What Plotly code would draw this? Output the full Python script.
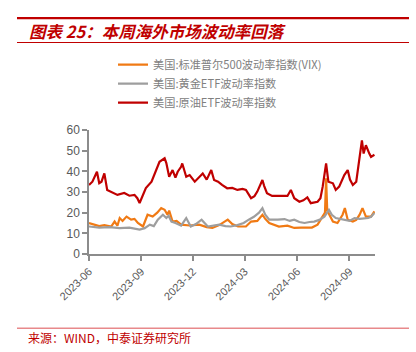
import plotly.graph_objects as go

# ---------------- data ----------------
vix_dates = ["2023-06-01","2023-06-11","2023-06-19","2023-06-28","2023-07-10","2023-07-16","2023-07-21",
             "2023-07-25","2023-07-30","2023-08-06","2023-08-14","2023-08-20","2023-08-26","2023-09-04",
             "2023-09-12","2023-09-21","2023-09-29","2023-10-06","2023-10-12","2023-10-17","2023-10-20",
             "2023-10-26","2023-11-02","2023-11-10","2023-11-25","2023-12-12","2023-12-25","2024-01-04",
             "2024-01-16","2024-01-31","2024-02-08","2024-02-18","2024-03-03","2024-03-12","2024-03-23",
             "2024-04-01","2024-04-06","2024-04-13","2024-04-30","2024-05-15","2024-05-27","2024-06-08",
             "2024-06-19","2024-06-27","2024-07-07","2024-07-16","2024-07-20","2024-07-22","2024-07-24",
             "2024-08-03","2024-08-11","2024-08-20","2024-08-24","2024-08-29","2024-09-07","2024-09-13",
             "2024-09-19","2024-09-24","2024-09-30","2024-10-09","2024-10-15"]
vix = [15.0, 14.0, 13.5, 14.0, 13.3, 15.7, 13.7,
       17.4, 16.0, 18.1, 16.6, 17.0, 15.0, 13.3,
       19.0, 18.1, 20.0, 22.2, 21.4, 19.0, 21.0,
       15.7, 16.0, 14.2, 13.8, 14.2, 13.0, 12.6,
       14.0, 16.6, 14.5, 13.3, 13.3, 15.7, 16.0,
       19.0, 17.0, 15.0, 13.3, 13.7, 12.6, 12.8,
       12.6, 12.8, 14.2, 18.1, 20.0, 36.6, 21.0,
       15.7, 15.0, 19.0, 22.2, 16.6, 15.7, 16.5,
       19.0, 22.2, 18.1, 18.1, 20.6]

gold_dates = ["2023-06-01","2023-06-19","2023-07-07","2023-07-25","2023-08-11","2023-08-29","2023-09-07",
              "2023-09-16","2023-09-23","2023-09-30","2023-10-09","2023-10-15","2023-10-19","2023-10-24",
              "2023-10-31","2023-11-10","2023-11-19","2023-11-27","2023-12-06","2023-12-16","2023-12-27",
              "2024-01-07","2024-01-16","2024-01-27","2024-02-05","2024-02-17","2024-02-28","2024-03-08",
              "2024-03-17","2024-03-26","2024-04-01","2024-04-06","2024-04-13","2024-04-28","2024-05-10",
              "2024-05-19","2024-05-27","2024-06-05","2024-06-14","2024-06-23","2024-07-01","2024-07-10",
              "2024-07-19","2024-07-27","2024-08-01","2024-08-08","2024-08-16","2024-08-26","2024-09-01",
              "2024-09-10","2024-09-19","2024-10-04","2024-10-09","2024-10-15"]
gold = [13.3, 12.8, 13.0, 12.5, 12.8, 11.8, 12.5,
        14.2, 13.5, 16.6, 19.0, 17.4, 18.5, 15.7,
        15.0, 13.7, 17.4, 13.3, 14.5, 16.6, 13.3,
        14.0, 14.2, 13.5, 13.3, 14.0, 15.0, 16.6,
        18.0, 20.0, 22.2, 19.0, 16.6, 16.6, 16.9,
        16.0, 16.6, 15.5, 15.0, 15.5, 15.7, 16.5,
        18.1, 21.4, 19.0, 17.4, 17.0, 16.6, 16.0,
        17.4, 17.0, 17.4, 18.0, 19.8]

oil_dates = ["2023-06-01","2023-06-07","2023-06-15","2023-06-19","2023-06-23","2023-06-28","2023-07-03",
             "2023-07-11","2023-07-21","2023-08-02","2023-08-11","2023-08-20","2023-08-25","2023-08-29",
             "2023-09-09","2023-09-19","2023-09-27","2023-10-03","2023-10-12","2023-10-15","2023-10-20",
             "2023-10-26","2023-10-31","2023-11-04","2023-11-10","2023-11-12","2023-11-19","2023-11-25",
             "2023-12-04","2023-12-11","2023-12-18","2023-12-25","2024-01-02","2024-01-07","2024-01-14",
             "2024-01-21","2024-01-30","2024-02-08","2024-02-17","2024-02-26","2024-03-03","2024-03-12",
             "2024-03-18","2024-03-23","2024-04-01","2024-04-04","2024-04-09","2024-04-18","2024-04-30",
             "2024-05-15","2024-05-21","2024-05-27","2024-06-05","2024-06-12","2024-06-19","2024-06-25",
             "2024-07-07","2024-07-12","2024-07-16","2024-07-22","2024-07-26","2024-08-03","2024-08-08",
             "2024-08-14","2024-08-23","2024-08-29","2024-09-02","2024-09-07","2024-09-13","2024-09-19",
             "2024-09-23","2024-09-26","2024-09-30","2024-10-06","2024-10-09","2024-10-15"]
oil = [33.4, 35.0, 39.8, 34.3, 35.0, 39.0, 31.0,
       30.0, 28.6, 29.5, 28.2, 28.6, 27.0, 24.7,
       31.9, 35.0, 40.6, 44.6, 46.3, 44.0, 37.4,
       40.6, 37.0, 39.8, 42.2, 43.8, 37.4, 38.2,
       35.0, 37.0, 39.0, 36.0, 40.6, 35.8, 35.0,
       33.4, 31.8, 32.0, 31.0, 31.5, 31.0, 27.0,
       28.0, 30.2, 35.8, 33.0, 29.4, 28.1, 28.1,
       28.1, 31.0, 27.0, 25.3, 26.0, 27.4, 24.6,
       25.3, 27.0, 32.6, 43.8, 35.0, 34.2, 31.0,
       32.6, 38.2, 40.6, 36.0, 33.4, 35.0, 47.0,
       55.0, 48.6, 52.6, 48.6, 47.0, 48.0]

series_names = ["美国:标准普尔500波动率指数(VIX)", "美国:黄金ETF波动率指数", "美国:原油ETF波动率指数"]
series_colors = ["#F07A14", "#9E9E9E", "#C00000"]
x_tickvals = ["2023-06-01","2023-09-01","2023-12-01","2024-03-01","2024-06-01","2024-09-01"]
x_ticktext = ["2023-06","2023-09","2023-12","2024-03","2024-06","2024-09"]
y_ticks = [0, 10, 20, 30, 40, 50, 60]
title_text = "图表 25：本周海外市场波动率回落"
source_text = "来源：WIND，中泰证券研究所"

# ---------------- figure ----------------
W, H = 416, 352
L, R, T, B = 89, 41, 129.5, 97.5
pw, ph = W - L - R, H - T - B

def px(x):
    return (x - L) / pw

def py(y):
    return (H - B - y) / ph

fig = go.Figure()
for d, v, n, c in zip([vix_dates, gold_dates, oil_dates], [vix, gold, oil], series_names, series_colors):
    fig.add_trace(go.Scatter(x=d, y=v, name=n, mode="lines",
                             line=dict(color=c, width=2.2)))

axis_col = "#8C8C8C"
tick_font = dict(family="Liberation Sans, Arial", size=12, color="#595959")
fig.update_layout(
    width=W, height=H,
    margin=dict(l=L, r=R, t=T, b=B),
    paper_bgcolor="white", plot_bgcolor="white",
    showlegend=True,
    legend=dict(x=px(113), y=py(49), xanchor="left", yanchor="top",
                font=dict(family="Noto Sans CJK SC", size=11.2, color="#808080"),
                bgcolor="rgba(0,0,0,0)", borderwidth=0, tracegroupgap=0),
    xaxis=dict(type="date", range=["2023-06-01", "2024-10-16"],
               tickvals=x_tickvals, ticktext=x_ticktext, tickangle=-45,
               tickfont=dict(family="Liberation Sans, Arial", size=11, color="#595959"),
               showgrid=False, zeroline=False, showline=True, linecolor=axis_col, linewidth=1.5,
               ticks="outside", ticklen=5, tickcolor=axis_col, tickwidth=1.5),
    yaxis=dict(range=[0, 60], tickvals=y_ticks, tickfont=tick_font,
               showgrid=False, zeroline=False, showline=True, linecolor=axis_col, linewidth=1.5,
               ticks="outside", ticklen=5, tickcolor=axis_col, tickwidth=1.5),
)

# title block
fig.add_shape(type="line", xref="paper", yref="paper", x0=px(17), x1=px(409), y0=py(16.7), y1=py(16.7),
              line=dict(color="#C00000", width=2.2))
fig.add_shape(type="line", xref="paper", yref="paper", x0=px(17), x1=px(409), y0=py(41.3), y1=py(41.3),
              line=dict(color="#C00000", width=1.2))
fig.add_annotation(text="<b>" + title_text + "</b>", xref="paper", yref="paper",
                   x=px(27), y=py(29.5), xanchor="left", yanchor="middle", showarrow=False,
                   font=dict(family="Noto Sans CJK SC", size=16.5, color="#C00000", style="italic"))
# source block
fig.add_shape(type="line", xref="paper", yref="paper", x0=px(17), x1=px(409), y0=py(329.3), y1=py(329.3),
              line=dict(color="#E8898B", width=1.5))
fig.add_annotation(text=source_text, xref="paper", yref="paper",
                   x=px(26), y=py(338.5), xanchor="left", yanchor="middle", showarrow=False,
                   font=dict(family="Noto Sans CJK SC", size=12, color="#C00000"))

fig.write_html("out.html")
